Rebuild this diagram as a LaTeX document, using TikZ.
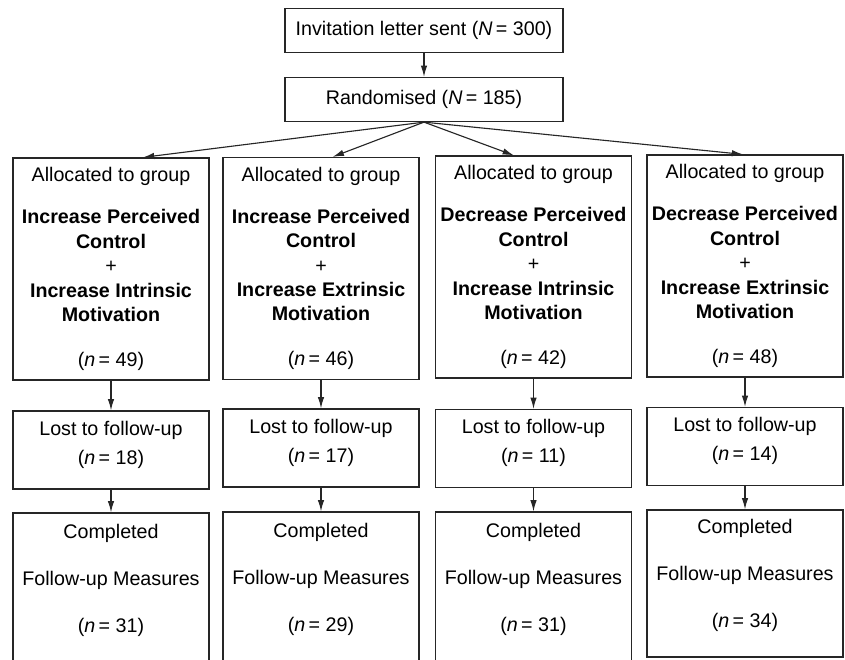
\documentclass[tikz,border=0pt]{standalone}
\usepackage{fontspec}
\setmainfont{Liberation Sans}
\usetikzlibrary{arrows.meta}

\begin{document}
\begin{tikzpicture}[
    box/.style={rectangle, draw=black!85, line width=0.9pt, align=center, inner sep=2pt, font=\fontsize{14}{17.4}\selectfont},
    topbox/.style={box, minimum width=6.95cm, minimum height=1.1cm},
    group/.style={box, minimum width=4.9cm, minimum height=5.55cm},
    lost/.style={box, minimum width=4.9cm, minimum height=1.95cm},
    done/.style={box, minimum width=4.9cm, minimum height=3.75cm},
    arrow/.style={-{Latex[length=2.8mm, width=1.6mm]}, draw=black!85, line width=0.8pt}
]
\useasboundingbox (0,0) rectangle (21.125,-16.475);

% Enrolment
\node[topbox] (invit) at (10.6,-0.7625) {Invitation letter sent (\textit{N}\,= 300)};
\node[topbox] (rand) at (10.6,-2.4875) {Randomised (\textit{N}\,= 185)};

% Allocation to the four groups
\node[group] (g1) at (2.775,-6.725) {Allocated to group\\[12.4pt]
    \textbf{Increase Perceived}\\ \textbf{Control}\\ +\\ \textbf{Increase Intrinsic}\\ \textbf{Motivation}\\[14.6pt]
    (\textit{n}\,= 49)};
\node[group] (g2) at (8.025,-6.7125) {Allocated to group\\[12.4pt]
    \textbf{Increase Perceived}\\ \textbf{Control}\\ +\\ \textbf{Increase Extrinsic}\\ \textbf{Motivation}\\[14.6pt]
    (\textit{n}\,= 46)};
\node[group] (g3) at (13.3375,-6.675) {Allocated to group\\[12.4pt]
    \textbf{Decrease Perceived}\\ \textbf{Control}\\ +\\ \textbf{Increase Intrinsic}\\ \textbf{Motivation}\\[14.6pt]
    (\textit{n}\,= 42)};
\node[group] (g4) at (18.625,-6.65) {Allocated to group\\[12.4pt]
    \textbf{Decrease Perceived}\\ \textbf{Control}\\ +\\ \textbf{Increase Extrinsic}\\ \textbf{Motivation}\\[14.6pt]
    (\textit{n}\,= 48)};

% Drop-outs
\node[lost] (l1) at (2.775,-11.25) {Lost to follow-up\\[3.2pt] (\textit{n}\,= 18)\rule[-10.7pt]{0pt}{10.7pt}};
\node[lost] (l2) at (8.025,-11.2) {Lost to follow-up\\[3.2pt] (\textit{n}\,= 17)\rule[-10.7pt]{0pt}{10.7pt}};
\node[lost] (l3) at (13.3375,-11.2125) {Lost to follow-up\\[3.2pt] (\textit{n}\,= 11)\rule[-10.7pt]{0pt}{10.7pt}};
\node[lost] (l4) at (18.625,-11.1625) {Lost to follow-up\\[3.2pt] (\textit{n}\,= 14)\rule[-10.7pt]{0pt}{10.7pt}};

% Completers
\node[done] (c1) at (2.775,-14.7) {Completed\\[16pt] Follow-up Measures\\[16pt] (\textit{n}\,= 31)\rule[-14.3pt]{0pt}{14.3pt}};
\node[done] (c2) at (8.025,-14.675) {Completed\\[16pt] Follow-up Measures\\[16pt] (\textit{n}\,= 29)\rule[-14.3pt]{0pt}{14.3pt}};
\node[done] (c3) at (13.3375,-14.675) {Completed\\[16pt] Follow-up Measures\\[16pt] (\textit{n}\,= 31)\rule[-14.3pt]{0pt}{14.3pt}};
\node[done, minimum height=3.675cm] (c4) at (18.625,-14.5875) {Completed\\[16pt] Follow-up Measures\\[16pt] (\textit{n}\,= 34)\rule[-14.3pt]{0pt}{14.3pt}};

\draw[arrow] (invit.south) -- (rand.north);
\foreach \i/\a in {1/74, 2/84, 3/100, 4/91}
    \draw[arrow] (rand.south) -- (g\i.\a);
\foreach \i in {1,...,4} {
    \draw[arrow] (g\i.south) -- (l\i.north);
    \draw[arrow] (l\i.south) -- (c\i.north);
}

\end{tikzpicture}
\end{document}
